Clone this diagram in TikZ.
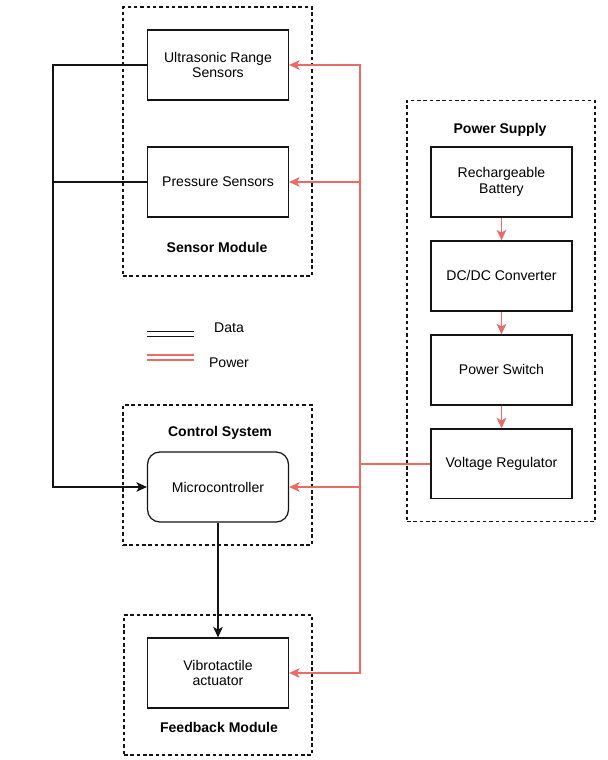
\documentclass[tikz,border=0pt]{standalone}
\usepackage{fontspec}
\setmainfont{Liberation Sans}
\usetikzlibrary{arrows.meta,positioning}
\definecolor{powerred}{RGB}{234,107,102}
\definecolor{lineblack}{RGB}{20,20,20}
\tikzset{
  box/.style={
    rectangle,
    draw=lineblack,
    line width=0.7pt,
    align=center,
    minimum width=2.82cm,
    minimum height=1.4cm,
    font=\fontsize{8}{8.8}\selectfont
  },
  group/.style={
    rectangle,
    draw=lineblack,
    line width=0.6pt,
    dash pattern=on 2pt off 1.6pt
  },
  grouplabel/.style={
    font=\fontsize{8}{8.8}\selectfont\bfseries
  },
  keylabel/.style={
    font=\fontsize{8}{8.8}\selectfont
  },
  dataline/.style={draw=lineblack, line width=0.7pt},
  powerline/.style={draw=powerred, line width=0.7pt},
  arrow/.style={-{Stealth[length=6pt,width=5.5pt,inset=1.6pt]}}
}
\begin{document}
\begin{tikzpicture}[x=0.02cm, y=-0.02cm, node distance=0.455cm]
    \useasboundingbox (0,0) rectangle (608,760);

    % module frames
    \node[group, minimum width=3.78cm, minimum height=5.38cm] (sensorgrp) at (217.5,141.5) {};
    \node[group, minimum width=3.78cm, minimum height=2.8cm] (controlgrp) at (217.5,475) {};
    \node[group, minimum width=3.76cm, minimum height=2.8cm] (feedbackgrp) at (218,685) {};
    \node[group, minimum width=3.76cm, minimum height=8.44cm] (powergrp) at (501,311) {};

    \node[grouplabel] (sensorlbl) at (217,247) {Sensor Module};
    \node[grouplabel] (controllbl) at (220,433) {Control System};
    \node[grouplabel] (feedbacklbl) at (219,727) {Feedback Module};
    \node[grouplabel] (powerlbl) at (500,130) {Power Supply};

    % sensor, control and feedback blocks
    \node[box] (ultra) at (218,65) {Ultrasonic Range\\Sensors};
    \node[box] (press) at (218,182) {Pressure Sensors};
    \node[box, rounded corners=7pt] (micro) at (218,487) {Microcontroller};
    \node[box] (vib) at (218,673) {Vibrotactile\\actuator};

    % power chain
    \node[box] (batt) at (501.5,182) {Rechargeable\\Battery};
    \node[box, below=of batt] (dcdc) {DC/DC Converter};
    \node[box, below=of dcdc] (pswitch) {Power Switch};
    \node[box, below=of pswitch] (vreg) {Voltage Regulator};

    % legend
    \coordinate (datakeyA) at (147,333.7);
    \coordinate (datakeyB) at (194,333.7);
    \coordinate (powerkeyA) at (147,357.5);
    \coordinate (powerkeyB) at (194,357.5);
    \draw[dataline, line width=0.65pt, double=white, double distance=2.2pt] (datakeyA) -- (datakeyB);
    \draw[powerline, line width=0.75pt, double=white, double distance=2.1pt] (powerkeyA) -- (powerkeyB);
    \node[keylabel] (datalbl) at (229,328) {Data};
    \node[keylabel] (powerlbl2) at (229,363) {Power};

    % data lines
    \coordinate (datacol) at (53,65);
    \draw[dataline] (press.west) -- (press.west -| datacol);
    \draw[dataline, arrow] (ultra.west) -- (datacol) |- (micro.west);
    \draw[dataline, arrow] (micro.south) -- (vib.north);

    % power lines
    \coordinate (buscol) at (360,65);
    \coordinate (bus) at (vreg.west -| buscol);
    \draw[powerline] (vreg.west) -- (bus);
    \draw[powerline, arrow] (bus) |- (ultra.east);
    \draw[powerline, arrow] (bus) |- (press.east);
    \draw[powerline, arrow] (bus) |- (micro.east);
    \draw[powerline, arrow] (bus) |- (vib.east);
    \draw[powerline, arrow] (batt) -- (dcdc);
    \draw[powerline, arrow] (dcdc) -- (pswitch);
    \draw[powerline, arrow] (pswitch) -- (vreg);
  \end{tikzpicture}
\end{document}
